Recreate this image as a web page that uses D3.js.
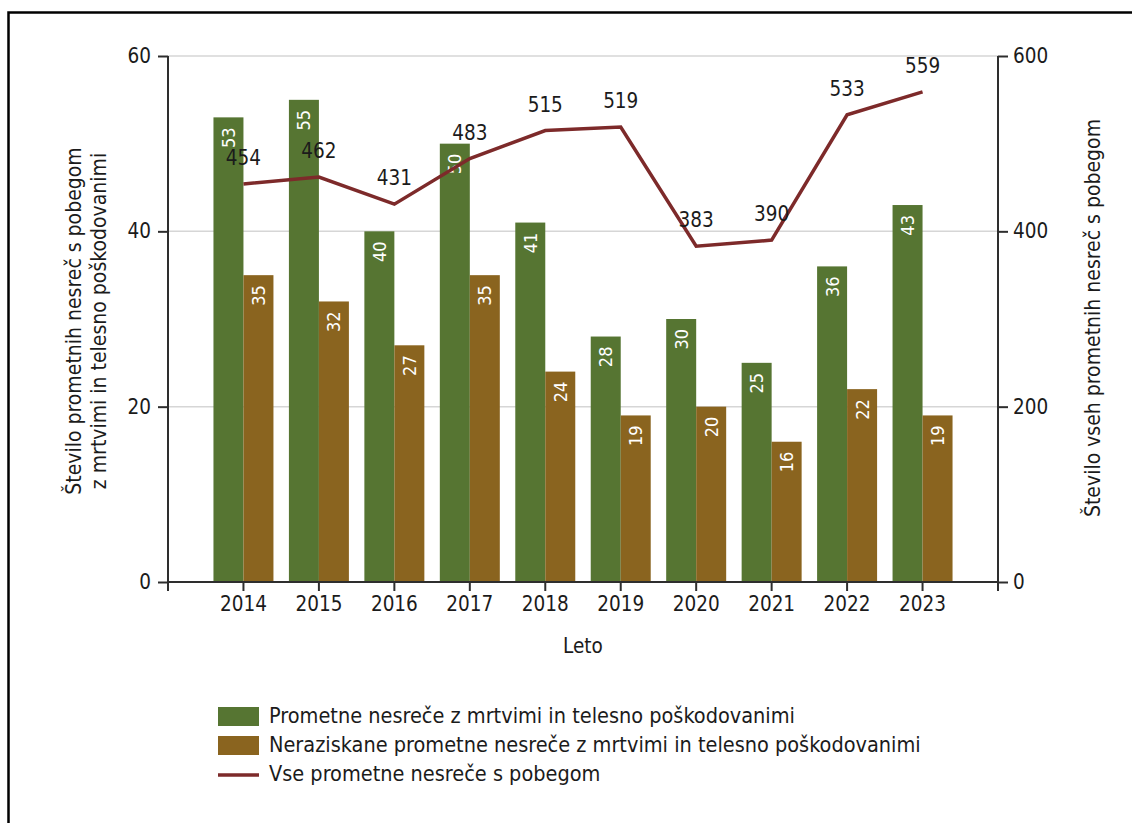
<!DOCTYPE html>
<html>
<head>
<meta charset="utf-8">
<script src="https://cdn.jsdelivr.net/npm/d3@7"></script>
<style>
  html, body { margin: 0; padding: 0; background: #fff; }
  svg { display: block; }
  text { font-family: "DejaVu Sans Condensed", "DejaVu Sans", sans-serif; font-stretch: condensed; fill: #1b1b1b; }
</style>
</head>
<body>
<svg id="chart" width="1132" height="823"></svg>
<script>
const years = ["2014","2015","2016","2017","2018","2019","2020","2021","2022","2023"];
const fatalInjured = [53, 55, 40, 50, 41, 28, 30, 25, 36, 43];
const unresolved = [35, 32, 27, 35, 24, 19, 20, 16, 22, 19];
const allHitAndRun = [454, 462, 431, 483, 515, 519, 383, 390, 533, 559];
const leftTicks = [0, 20, 40, 60];
const rightTicks = [0, 200, 400, 600];
const seriesNames = [
  "Prometne nesreče z mrtvimi in telesno poškodovanimi",
  "Neraziskane prometne nesreče z mrtvimi in telesno poškodovanimi",
  "Vse prometne nesreče s pobegom"
];
const leftTitle = ["Število prometnih nesreč s pobegom", "z mrtvimi in telesno poškodovanimi"];
const rightTitle = "Število vseh prometnih nesreč s pobegom";
const xTitle = "Leto";

const colors = { green: "#567532", brown: "#8a641f", line: "#7d2a2a", axis: "#2e2e2e", grid: "#d6d6d6" };

const svg = d3.select("#chart");

// frame
svg.append("path").attr("d", "M8.5,1140 L8.5,12.5 L1140,12.5")
  .attr("fill", "none").attr("stroke", "#000").attr("stroke-width", 2.5);

const pL = 168, pR = 998, pT = 56, pB = 582;

const x = d3.scaleBand().domain(years).range([pL, pR]).paddingInner(0).paddingOuter(0.5);
const x1 = d3.scaleBand().domain([0, 1]).range([0, x.bandwidth() * 0.795]);
const groupOffset = (x.bandwidth() - x.bandwidth() * 0.795) / 2;
const yL = d3.scaleLinear().domain([0, 60]).range([pB, pT]);
const yR = d3.scaleLinear().domain([0, 600]).range([pB, pT]);

// gridlines
svg.append("g").selectAll("line").data(leftTicks.filter(d => d > 0)).join("line")
  .attr("x1", pL).attr("x2", pR)
  .attr("y1", d => yL(d)).attr("y2", d => yL(d))
  .attr("stroke", colors.grid).attr("stroke-width", 1.5);

// bars
const bars = svg.append("g");
const barData = [];
years.forEach((yr, i) => {
  barData.push({ yr, s: 0, v: fatalInjured[i] });
  barData.push({ yr, s: 1, v: unresolved[i] });
});
bars.selectAll("rect").data(barData).join("rect")
  .attr("x", d => x(d.yr) + groupOffset + x1(d.s))
  .attr("width", x1.bandwidth())
  .attr("y", d => yL(d.v))
  .attr("height", d => yL(0) - yL(d.v))
  .attr("fill", d => d.s === 0 ? colors.green : colors.brown);

// bar labels
bars.selectAll("text").data(barData).join("text")
  .attr("transform", d => {
    const cx = x(d.yr) + groupOffset + x1(d.s) + x1.bandwidth() / 2;
    const ty = yL(d.v) + 10;
    return `translate(${cx},${ty}) rotate(-90)`;
  })
  .attr("text-anchor", "end")
  .attr("dy", "0.36em")
  .style("font-size", "18px")
  .style("fill", "#fff")
  .text(d => d.v);

// axes
const axisG = svg.append("g").attr("stroke", colors.axis).attr("stroke-width", 2).attr("fill", "none");
axisG.append("line").attr("x1", pL).attr("x2", pL).attr("y1", pT).attr("y2", pB + 9);
axisG.append("line").attr("x1", pR).attr("x2", pR).attr("y1", pT).attr("y2", pB + 9);
axisG.append("line").attr("x1", pL).attr("x2", pR).attr("y1", pB).attr("y2", pB);

const yAxisL = d3.axisLeft(yL).tickValues(leftTicks).tickSize(10).tickPadding(7);
const gL = svg.append("g").attr("transform", `translate(${pL},0)`).call(yAxisL);
const yAxisR = d3.axisRight(yR).tickValues(rightTicks).tickSize(10).tickPadding(5);
const gR = svg.append("g").attr("transform", `translate(${pR},0)`).call(yAxisR);
const xAxis = d3.axisBottom(x).tickSize(9).tickPadding(5);
const gX = svg.append("g").attr("transform", `translate(0,${pB})`).call(xAxis);

[gL, gR, gX].forEach(g => {
  g.select(".domain").remove();
  g.selectAll(".tick line").attr("stroke", colors.axis).attr("stroke-width", 2);
  g.selectAll(".tick text").style("font-size", "20.5px").style("fill", "#1b1b1b")
    .style("font-family", '"DejaVu Sans Condensed", "DejaVu Sans", sans-serif');
});
gX.selectAll(".tick text").attr("dy", "0.75em");

// line
const pts = years.map((yr, i) => ({ yr, v: allHitAndRun[i] }));
const lineGen = d3.line().x(d => x(d.yr) + x.bandwidth() / 2).y(d => yR(d.v));
svg.append("path").datum(pts).attr("d", lineGen)
  .attr("fill", "none").attr("stroke", colors.line).attr("stroke-width", 3.5)
  .attr("stroke-linejoin", "miter");

svg.append("g").selectAll("text").data(pts).join("text")
  .attr("x", d => x(d.yr) + x.bandwidth() / 2)
  .attr("y", d => yR(d.v) - 19)
  .attr("text-anchor", "middle")
  .style("font-size", "20.5px")
  .text(d => d.v);

// axis titles
const lt = svg.append("text").attr("transform", `translate(81,321) rotate(-90)`)
  .attr("text-anchor", "middle").style("font-size", "21px");
lt.selectAll("tspan").data(leftTitle).join("tspan")
  .attr("x", 0).attr("dy", (d, i) => i === 0 ? 0 : 25).text(d => d);

svg.append("text").attr("transform", `translate(1100,318) rotate(-90)`)
  .attr("text-anchor", "middle").style("font-size", "21px").text(rightTitle);

svg.append("text").attr("x", (pL + pR) / 2).attr("y", 653)
  .attr("text-anchor", "middle").style("font-size", "20.5px").text(xTitle);

// legend
const lg = svg.append("g").attr("transform", "translate(218,707)");
const rows = lg.selectAll("g").data(seriesNames).join("g")
  .attr("transform", (d, i) => `translate(0,${i * 29})`);
rows.each(function(d, i) {
  const g = d3.select(this);
  if (i < 2) {
    g.append("rect").attr("x", 0).attr("y", 0).attr("width", 41).attr("height", 19)
      .attr("fill", i === 0 ? colors.green : colors.brown);
  } else {
    g.append("line").attr("x1", 0).attr("x2", 41).attr("y1", 10).attr("y2", 10)
      .attr("stroke", colors.line).attr("stroke-width", 3.5);
  }
  g.append("text").attr("x", 51).attr("y", 16).style("font-size", "21.5px").text(d);
});
</script>
</body>
</html>
